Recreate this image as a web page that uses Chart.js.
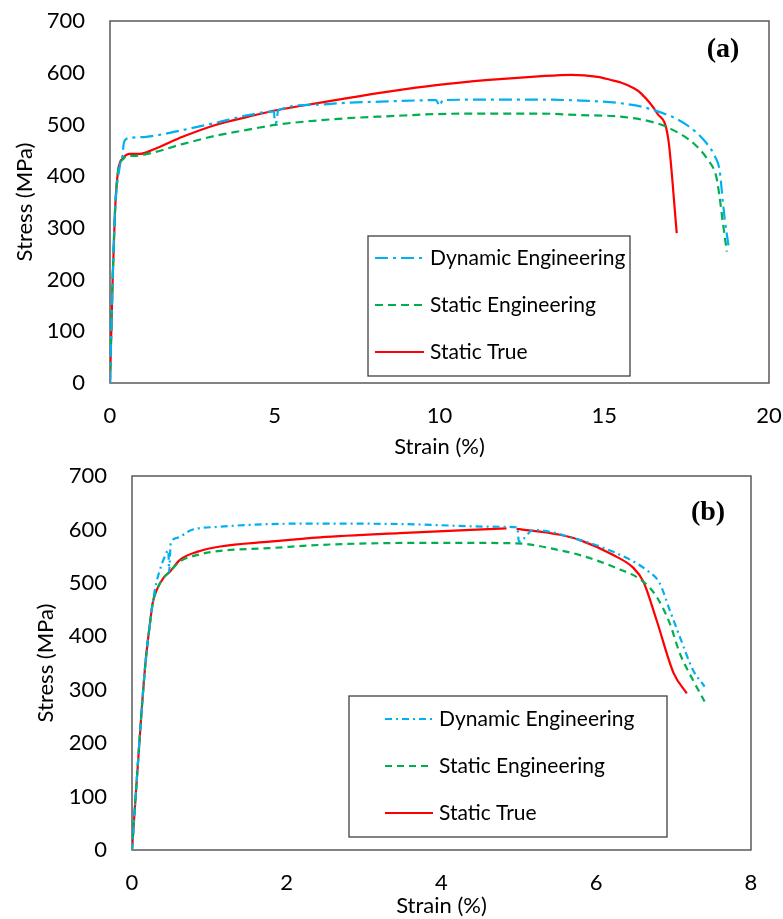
<!DOCTYPE html>
<html>
<head>
<meta charset="utf-8">
<script src="https://cdn.jsdelivr.net/npm/chart.js@4"></script>
<style>
  body { margin: 0; background: #fff; }
  .panel { position: absolute; left: 0; width: 783px; }
</style>
</head>
<body>
<div class="panel" style="top:0;height:460px"><canvas id="chartA"></canvas></div>
<div class="panel" style="top:460px;height:459px"><canvas id="chartB"></canvas></div>
<script>
// Panel (a): strain in %, stress in MPa
const aDynStrain = [0, 0.08, 0.15, 0.3, 0.38, 0.42, 0.5, 0.61, 1.1, 1.6, 2.2, 3.2, 4.2, 4.98, 5.0, 5.05, 5.1, 6.2, 7.2, 8.2, 9.9, 10.0, 10.1, 11.5, 13.0, 14.3, 15.5, 16.5, 17.5, 18.1, 18.36, 18.5, 18.6, 18.66, 18.77];
const aDynStress = [0, 199, 329, 420, 440, 464, 472, 474, 476, 481, 489, 503, 518, 525, 503, 504, 527, 538, 542, 544, 547, 536, 547, 548, 548, 546, 541, 528, 499, 464, 438, 412, 350, 315, 266];

const aEngStrain = [0, 0.08, 0.15, 0.25, 0.4, 0.55, 0.71, 1.2, 2.2, 3.2, 4.2, 5.0, 6.0, 7.2, 8.5, 9.9, 11.5, 13.0, 14.3, 15.5, 16.5, 17.0, 17.7, 18.15, 18.4, 18.5, 18.6, 18.72];
const aEngStress = [0, 199, 329, 412, 433, 440, 439, 444, 462, 478, 490, 499, 506, 512, 516, 520, 521, 521, 518, 515, 504, 492, 464, 431, 399, 360, 310, 254];

const aTrueStrain = [0, 0.08, 0.15, 0.25, 0.4, 0.6, 0.9, 1.3, 2.2, 3.2, 4.2, 5.0, 6.0, 7.2, 8.5, 9.9, 11.5, 13.0, 14.0, 14.8, 15.2, 15.5, 15.9, 16.1, 16.6, 16.94, 17.2];
const aTrueStress = [0, 199, 329, 412, 435, 443, 443, 451, 476, 499, 515, 527, 538, 551, 564, 576, 586, 593, 596, 592, 586, 581, 570, 561, 522, 473, 290];

// Panel (b)
const bDynStrain = [0, 0.125, 0.18, 0.233, 0.3, 0.36, 0.42, 0.47, 0.48, 0.5, 0.58, 0.77, 1.14, 1.78, 2.43, 3.5, 4.76, 4.98, 5.0, 5.19, 5.79, 6.22, 6.65, 6.82, 6.95, 7.08, 7.25, 7.4];
const bDynStress = [0, 262, 359, 425, 490, 524, 548, 561, 521, 573, 584, 599, 605, 610, 611, 610, 605, 604, 577, 599, 580, 558, 524, 499, 449, 399, 337, 306];

const bEngStrain = [0, 0.125, 0.18, 0.233, 0.267, 0.32, 0.405, 0.49, 0.62, 0.84, 1.14, 1.78, 2.43, 3.89, 4.97, 5.53, 5.79, 6.22, 6.61, 6.78, 6.95, 7.08, 7.25, 7.4];
const bEngStress = [0, 262, 359, 425, 462, 487, 509, 521, 540, 552, 560, 565, 571, 575, 574, 561, 552, 530, 502, 474, 424, 368, 318, 278];

const bTrueStrain = [0, 0.125, 0.18, 0.233, 0.267, 0.32, 0.405, 0.49, 0.62, 0.84, 1.14, 1.78, 2.43, 3.46, 4.84, 4.9, 4.97, 5.53, 5.79, 6.22, 6.48, 6.61, 6.78, 7.0, 7.17];
const bTrueStress = [0, 262, 359, 425, 462, 487, 509, 521, 543, 558, 568, 577, 585, 593, 602, null, 601, 590, 580, 552, 528, 502, 430, 331, 293];

const seriesNames = ['Dynamic Engineering', 'Static Engineering', 'Static True'];
const stressTicks = { min: 0, max: 700, step: 100 };

function points(xs, ys) {
    return xs.map((x, i) => ({ x: x, y: ys[i] }));
}

// scales keep their fixed size and ask for no extra room around the plot
function fixSize(scale, prop, size) {
    scale[prop] = size;
    scale.paddingTop = 0;
    scale.paddingBottom = 0;
    scale.paddingLeft = 0;
    scale.paddingRight = 0;
}

// box around the plot, legend with a frame, and the panel tag
const boxLegend = {
    id: 'boxLegend',
    beforeDatasetsDraw(chart) {
        const { ctx, chartArea: a } = chart;
        ctx.save();
        ctx.strokeStyle = '#595959';
        ctx.lineWidth = 1.5;
        ctx.strokeRect(a.left, a.top, a.right - a.left, a.bottom - a.top);
        ctx.restore();
    },
    afterDatasetsDraw(chart, args, opts) {
        const ctx = chart.ctx;
        const [bx, by, bw, bh] = opts.box;
        ctx.save();
        ctx.fillStyle = '#fff';
        ctx.fillRect(bx, by, bw, bh);
        ctx.strokeStyle = '#404040';
        ctx.lineWidth = 1.3;
        ctx.strokeRect(bx, by, bw, bh);
        chart.data.datasets.forEach((ds, i) => {
            const y = opts.rows[i];
            ctx.beginPath();
            ctx.setLineDash(ds.borderDash || []);
            ctx.strokeStyle = ds.borderColor;
            ctx.lineWidth = ds.borderWidth;
            ctx.moveTo(opts.lineX[0], y);
            ctx.lineTo(opts.lineX[1], y);
            ctx.stroke();
            ctx.setLineDash([]);
            ctx.fillStyle = '#000';
            ctx.font = '21px Lato';
            ctx.textAlign = 'left';
            ctx.textBaseline = 'middle';
            ctx.fillText(ds.label, opts.textX, y);
        });
        ctx.font = 'bold 28px "Liberation Serif"';
        ctx.textAlign = 'center';
        ctx.textBaseline = 'middle';
        ctx.fillStyle = '#000';
        ctx.fillText(opts.tag, opts.tagX, opts.tagY);
        ctx.restore();
    }
};

function makeChart(id, data, cfg) {
    const font = { family: 'Lato', size: 22 };
    return new Chart(document.getElementById(id), {
        type: 'scatter',
        data: {
            datasets: [
                { label: seriesNames[0], data: data[0], borderColor: '#00B0F0', borderWidth: 2.2, borderDash: cfg.dynDash },
                { label: seriesNames[1], data: data[1], borderColor: '#00B050', borderWidth: 2.2, borderDash: cfg.engDash },
                { label: seriesNames[2], data: data[2], borderColor: '#FF0000', borderWidth: 2.2 }
            ].map(ds => Object.assign(ds, { showLine: true, pointRadius: 0, cubicInterpolationMode: 'monotone', spanGaps: false }))
        },
        options: {
            responsive: true,
            maintainAspectRatio: false,
            animation: false,
            layout: { padding: cfg.padding },
            plugins: {
                legend: { display: false },
                tooltip: { enabled: false },
                boxLegend: cfg.legend
            },
            scales: {
                x: {
                    type: 'linear',
                    min: 0,
                    max: cfg.xMax,
                    afterFit: s => fixSize(s, 'height', cfg.xHeight),
                    grid: { display: false, drawTicks: false },
                    border: { display: false },
                    ticks: { stepSize: cfg.xStep, font: font, color: '#000', padding: 20, maxRotation: 0 },
                    title: { display: true, text: 'Strain (%)', font: font, color: '#000', padding: { top: 0, bottom: 0 } }
                },
                y: {
                    min: stressTicks.min,
                    max: stressTicks.max,
                    afterFit: s => fixSize(s, 'width', cfg.yWidth),
                    grid: { display: false, drawTicks: false },
                    border: { display: false },
                    ticks: { stepSize: stressTicks.step, font: font, color: '#000', padding: 25 },
                    title: { display: true, text: 'Stress (MPa)', font: font, color: '#000', padding: { top: cfg.yTitlePad, bottom: 0 } }
                }
            }
        },
        plugins: [boxLegend]
    });
}

makeChart('chartA', [
    points(aDynStrain, aDynStress),
    points(aEngStrain, aEngStress),
    points(aTrueStrain, aTrueStress)
], {
    xMax: 20, xStep: 5,
    padding: { left: 0, top: 21, right: 14, bottom: 0 },
    xHeight: 77, yWidth: 110, yTitlePad: 12,
    dynDash: [13, 5, 3, 5], engDash: [8, 5],
    legend: { box: [368, 236, 262, 140], rows: [258, 305, 352], lineX: [375, 424], textX: 430, tag: '(a)', tagX: 723, tagY: 50 }
});

makeChart('chartB', [
    points(bDynStrain, bDynStress),
    points(bEngStrain, bEngStress),
    points(bTrueStrain, bTrueStress)
], {
    xMax: 8, xStep: 2,
    padding: { left: 0, top: 16, right: 32, bottom: 0 },
    xHeight: 69, yWidth: 132, yTitlePad: 33,
    dynDash: [7, 4, 2, 4], engDash: [7, 5],
    legend: { box: [349, 236, 318, 141], rows: [259, 306, 353], lineX: [385, 433], textX: 439, tag: '(b)', tagX: 708, tagY: 53 }
});
</script>
</body>
</html>
